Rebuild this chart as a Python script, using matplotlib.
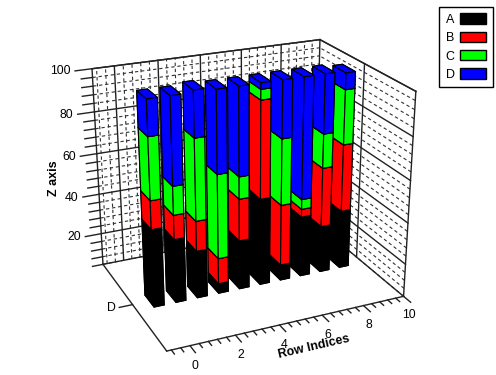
import matplotlib
matplotlib.use("Agg")
import matplotlib.pyplot as plt
from matplotlib.patches import Patch
import numpy as np

plt.rcParams["font.family"] = ["Liberation Sans", "DejaVu Sans"]

# row positions and stacked shares
rows = [0, 1, 2, 3, 4, 5, 6, 7, 8, 9]
series_a = [39, 32, 24, 5, 25, 44, 8, 31, 24, 30]
series_b = [14, 12, 15, 13, 21, 48, 31, 4, 30, 34]
series_c = [30, 14, 40, 42, 11, 5, 33, 5, 17, 27]
series_d = [17, 42, 22, 40, 43, 3, 28, 60, 29, 8]
names = ["A", "B", "C", "D"]
colors = ["black", "red", "lime", "blue"]

xlo, xhi = -1, 10
ylo, yhi = -1, 1
zlo, zhi = 4, 100
barw = 0.46
bard = 0.28

fig = plt.figure(figsize=(4.96, 3.75), dpi=100)
ax = fig.add_axes([-3.93 / 496, -1.08 / 375, 1, 1], projection="3d",
                  computed_zorder=False)
ax.set_proj_type("persp", focal_length=0.5633)
ax.view_init(elev=23.003, azim=-114.357)
ax.set_box_aspect((2.4617, 1.8654, 2.1), zoom=1.0)
ax.set_xlim(xlo, xhi)
ax.set_ylim(ylo, yhi)
ax.set_zlim(zlo, zhi)
ax.set_axis_off()


def line3(xs, ys, zs, dashed=False):
    if dashed:
        ax.plot(xs, ys, zs, color="#333333", lw=0.8, ls=(0, (3, 2.5)), zorder=1)
    else:
        ax.plot(xs, ys, zs, color="#222222", lw=1.0, zorder=2)


xsteps = np.arange(-0.8, xhi + 0.01, 0.4)

# back wall and side wall grid
for v in xsteps:
    major = abs(v / 2 - round(v / 2)) < 0.01
    if v < xhi - 0.01:
        line3([v, v], [yhi, yhi], [zlo, zhi], dashed=not major)
for v in range(zlo, zhi + 1, 4):
    major = v % 20 == 0
    line3([xlo, xhi], [yhi, yhi], [v, v], dashed=not major)
    line3([xhi, xhi], [ylo, yhi], [v, v], dashed=not major)
line3([xhi, xhi], [0, 0], [zlo, zhi])

# box edges
line3([xlo, xlo], [yhi, yhi], [zlo, zhi])
line3([xhi, xhi], [yhi, yhi], [zlo, zhi])
line3([xhi, xhi], [ylo, ylo], [zlo, zhi])
line3([xlo, xhi], [yhi, yhi], [zhi, zhi])
line3([xhi, xhi], [ylo, yhi], [zhi, zhi])
line3([xlo, xhi], [yhi, yhi], [zlo, zlo])
line3([xhi, xhi], [ylo, yhi], [zlo, zlo])
line3([xlo, xlo], [ylo, yhi], [zlo, zlo])
line3([xlo, xhi], [ylo, ylo], [zlo, zlo])

# ticks
for v in xsteps:
    major = abs(v / 2 - round(v / 2)) < 0.01
    line3([v, v], [ylo, ylo - (0.14 if major else 0.08)], [zlo, zlo])
    if major:
        ax.text(v, ylo - 0.12, zlo - 7, "%d" % round(v), ha="center", va="center",
                fontsize=8.8, zorder=5)
for v in range(zlo, zhi + 1, 4):
    major = v % 20 == 0
    line3([xlo, xlo - (0.75 if major else 0.5)], [yhi, yhi], [v, v])
    if major:
        ax.text(xlo - 0.95, yhi, v, str(v), ha="right", va="center",
                fontsize=8.8, zorder=5)
line3([xlo, xlo - 0.6], [0, 0], [zlo, zlo])
ax.text(xlo - 0.75, 0, zlo, "D", ha="right", va="center", fontsize=8.8, zorder=5)

# bars, back to front so the near ones cover the far ones
stack = np.array([series_a, series_b, series_c, series_d], dtype=float)
tops = np.cumsum(stack, axis=0)
order = 10
for i in reversed(range(len(rows))):
    for j in range(4):
        low = 0 if j == 0 else tops[j - 1][i]
        z0 = zlo + (zhi - zlo) * low / 100.0
        z1 = zlo + (zhi - zlo) * tops[j][i] / 100.0
        ax.bar3d(rows[i] - barw / 2, -bard / 2, z0, barw, bard, z1 - z0,
                 color=colors[j], edgecolor="black", linewidth=0.8,
                 shade=False, zorder=order)
        order += 1

fig.text(54 / 496, 1 - 178 / 375, "Z axis", rotation=90, fontsize=9,
         fontweight="bold", ha="center", va="center")
fig.text(314 / 496, 1 - 347 / 375, "Row Indices", rotation=13, fontsize=9,
         fontweight="bold", ha="center", va="center")

handles = [Patch(facecolor=c, edgecolor="black") for c in colors]
fig.legend(handles, names, loc="upper right",
           bbox_to_anchor=(492.5 / 496, 1 - 7 / 375),
           markerfirst=False, fancybox=False, framealpha=1, edgecolor="black",
           fontsize=9, handlelength=2.08, handleheight=0.9, labelspacing=0.47,
           borderpad=0.5, handletextpad=0.45, borderaxespad=0)

fig.savefig("out.png", dpi=100)
